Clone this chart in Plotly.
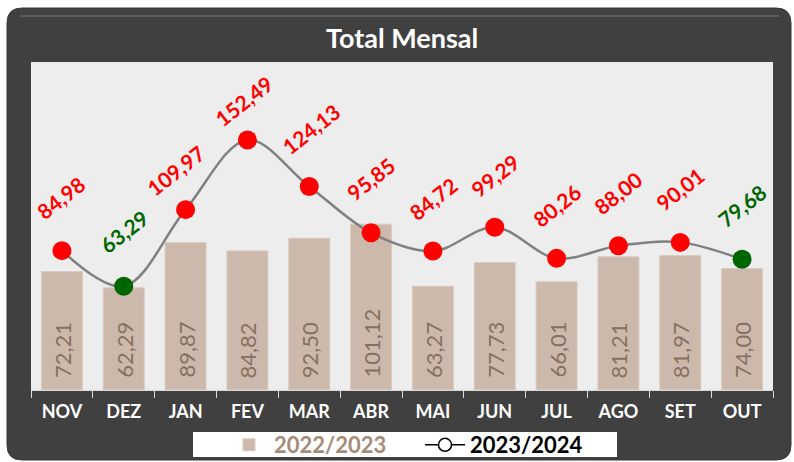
import plotly.graph_objects as go

# ---- data ----
months = ["NOV", "DEZ", "JAN", "FEV", "MAR", "ABR", "MAI", "JUN", "JUL", "AGO", "SET", "OUT"]
vals_2223 = [72.21, 62.29, 89.87, 84.82, 92.50, 101.12, 63.27, 77.73, 66.01, 81.21, 81.97, 74.00]
vals_2324 = [84.98, 63.29, 109.97, 152.49, 124.13, 95.85, 84.72, 99.29, 80.26, 88.00, 90.01, 79.68]
series_names = ["2022/2023", "2023/2024"]
title_text = "Total Mensal"

# ---- styles ----
RED = "#FF0000"
GREEN = "#006600"
pt_colors = [RED, GREEN, RED, RED, RED, RED, RED, RED, RED, RED, RED, GREEN]
label_dy = [53, 55, 39, 39, 58, 54, 53, 52, 53, 53, 54, 54]
label_dx = [-1, 0, -10, -3, 2, 0, 0, 0, 0, 0, 0, 0]
BAR = "#CDB9AC"
BAR_TXT = "#87705F"
FRAME = "#404040"
PLOT_BG = "#EDEDED"
FONT = "Lato"

W, H = 794, 462
L, R, T, B = 31, 773, 62, 390


def px(x):
    return (x - L) / (R - L)


def py(y):
    return (B - y) / (B - T)


def fmt(v):
    return f"{v:.2f}".replace(".", ",")


fig = go.Figure()

fig.add_trace(go.Bar(
    x=months, y=vals_2223, name=f"<span style='color:#A68B78'><b>{series_names[0]}</b></span>",
    marker=dict(color=BAR, line=dict(color="#D9CBC2", width=1)),
    hoverinfo="skip", showlegend=True,
))

fig.add_trace(go.Scatter(
    x=months, y=vals_2324, mode="lines+markers",
    line=dict(color="#808080", width=2.5, shape="spline", smoothing=1),
    marker=dict(size=19, color=pt_colors, line=dict(width=0)),
    hoverinfo="skip", showlegend=False,
))

# legend-only entry for line series
fig.add_trace(go.Scatter(
    x=[None], y=[None], mode="lines+markers",
    name=f"<span style='color:#000000'><b>{series_names[1]}</b></span>",
    line=dict(color="#000000", width=1.5),
    marker=dict(size=13, color="white", line=dict(color="#000000", width=1.5)),
    hoverinfo="skip",
))

annotations = []
for i, (m, v) in enumerate(zip(months, vals_2324)):
    annotations.append(dict(
        x=m, y=v, xref="x", yref="y", text=f"<b>{fmt(v)}</b>", showarrow=False,
        textangle=-38, xanchor="center", yanchor="middle",
        yshift=label_dy[i], xshift=label_dx[i],
        font=dict(family=FONT, size=21, color=pt_colors[i]),
    ))
for m, v in zip(months, vals_2223):
    annotations.append(dict(
        x=m, y=0, xref="x", yref="y", text=fmt(v), showarrow=False,
        textangle=-90, xanchor="center", yanchor="bottom", yshift=10,
        font=dict(family=FONT, size=22, color=BAR_TXT),
    ))
annotations.append(dict(
    x=px(401.5), y=py(38), xref="paper", yref="paper", text=f"<b>{title_text}</b>",
    showarrow=False, xanchor="center", yanchor="middle",
    font=dict(family=FONT, size=27, color="white"),
))

# rounded dark frame
x0, x1, y0, y1, r = 7, 791, 8, 460, 15
path = (
    f"M {px(x0 + r)},{py(y0)} L {px(x1 - r)},{py(y0)} "
    f"Q {px(x1)},{py(y0)} {px(x1)},{py(y0 + r)} "
    f"L {px(x1)},{py(y1 - r)} Q {px(x1)},{py(y1)} {px(x1 - r)},{py(y1)} "
    f"L {px(x0 + r)},{py(y1)} Q {px(x0)},{py(y1)} {px(x0)},{py(y1 - r)} "
    f"L {px(x0)},{py(y0 + r)} Q {px(x0)},{py(y0)} {px(x0 + r)},{py(y0)} Z"
)
shapes = [
    dict(type="path", path=path, xref="paper", yref="paper", layer="below",
         fillcolor=FRAME, line=dict(color="#383838", width=1)),
    dict(type="line", xref="paper", yref="paper", layer="below",
         x0=px(20), x1=px(779), y0=py(16), y1=py(16),
         line=dict(color="#5C5C5C", width=2)),
    dict(type="rect", xref="paper", yref="paper", layer="below",
         x0=px(L), x1=px(R), y0=py(B), y1=py(T), fillcolor=PLOT_BG, line=dict(width=0)),
    dict(type="rect", xref="paper", yref="paper", layer="below",
         x0=px(193), x1=px(617), y0=py(457), y1=py(432), fillcolor="white",
         line=dict(width=0)),
]

fig.update_layout(
    width=W, height=H,
    margin=dict(l=L, r=W - R, t=T, b=H - B, pad=0, autoexpand=False),
    paper_bgcolor="white", plot_bgcolor="rgba(0,0,0,0)",
    bargap=0.337,
    showlegend=True,
    legend=dict(
        orientation="h", x=px(224), xanchor="left", y=py(424), yanchor="top",
        bgcolor="rgba(0,0,0,0)", font=dict(family=FONT, size=22, color="black"),
        itemwidth=40, entrywidth=141, tracegroupgap=0,
    ),
    xaxis=dict(
        type="category", range=[-0.5, len(months) - 0.5],
        showgrid=False, zeroline=False, automargin=False,
        showline=True, linecolor="#D9D9D9", linewidth=1,
        ticks="outside", tickson="boundaries", ticklen=7, tickcolor="#D9D9D9",
        ticklabelstandoff=5,
        tickfont=dict(family=FONT, size=18, color="white"),
        fixedrange=True,
    ),
    yaxis=dict(range=[0, 200], visible=False, showgrid=False, zeroline=False,
               fixedrange=True, automargin=False),
    annotations=annotations,
    shapes=shapes,
)

fig.update_xaxes(tickvals=months, ticktext=[f"<b>{m}</b>" for m in months])

fig.write_html("out.html")
